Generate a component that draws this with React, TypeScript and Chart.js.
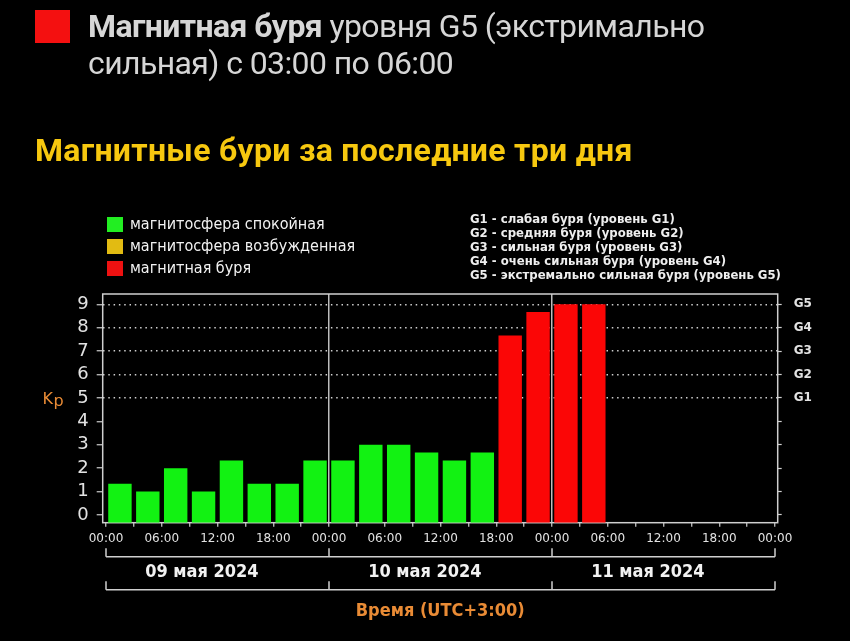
import React, { useEffect, useRef } from "react";
import { Chart, registerables } from "chart.js";

Chart.register(...registerables);

// ---- data ----
const slotHours = 3;
const slotStartHours = [0, 3, 6, 9, 12, 15, 18, 21, 24, 27, 30, 33, 36, 39, 42, 45, 48, 51];
const kpValues = [1.33, 1, 2, 1, 2.33, 1.33, 1.33, 2.33, 2.33, 3, 3, 2.67, 2.33, 2.67, 7.67, 8.67, 9, 9];
const timeTickHours = [0, 3, 6, 9, 12, 15, 18, 21, 24, 27, 30, 33, 36, 39, 42, 45, 48, 51, 54, 57, 60, 63, 66, 69, 72];
const timeTickLabels = [
  "00:00", "", "06:00", "", "12:00", "", "18:00", "",
  "00:00", "", "06:00", "", "12:00", "", "18:00", "",
  "00:00", "", "06:00", "", "12:00", "", "18:00", "",
  "00:00",
];
const kpTicks = [0, 1, 2, 3, 4, 5, 6, 7, 8, 9];
const stormLevelKp = [5, 6, 7, 8, 9];
const stormLevelLabels = ["G1", "G2", "G3", "G4", "G5"];
const dayBoundaryHours = [0, 24, 48, 72];
const dayLabels = ["09 мая 2024", "10 мая 2024", "11 мая 2024"];
const stateLabels = ["магнитосфера спокойная", "магнитосфера возбужденная", "магнитная буря"];
const stateColors = ["#22ee22", "#e2bb12", "#ee1111"];
const stormDescriptions = [
  "G1 - слабая буря (уровень G1)",
  "G2 - средняя буря (уровень G2)",
  "G3 - сильная буря (уровень G3)",
  "G4 - очень сильная буря (уровень G4)",
  "G5 - экстремально сильная буря (уровень G5)",
];

// ---- styles ----
const BAR_GREEN = "#12f212";
const BAR_YELLOW = "#e2bb12";
const BAR_RED = "#fb0606";
const FRAME = "#cfcfcf";
const TEXT = "#e2e2e2";
const ORANGE = "#e98b35";
const Y_MIN = -0.33;
const Y_MAX = 9.44;
const X_MIN = -0.355;
const X_MAX = 72.29;

const barColor = (kp: number) => (kp >= 5 ? BAR_RED : kp >= 4 ? BAR_YELLOW : BAR_GREEN);

const decorPlugin = {
  id: "decor",
  beforeDatasetsDraw(chart: any) {
    const { ctx, chartArea: a } = chart;
    ctx.save();
    ctx.strokeStyle = FRAME;
    ctx.lineWidth = 1.5;
    ctx.strokeRect(a.left, a.top, a.right - a.left, a.bottom - a.top);
    ctx.restore();
  },
  afterDraw(chart: any) {
    const { ctx } = chart;
    const xs = chart.scales.x;
    const ys = chart.scales.y;
    const px = dayBoundaryHours.map((h) => xs.getPixelForValue(h));
    const base = xs.top;
    ctx.save();
    ctx.strokeStyle = FRAME;
    ctx.lineWidth = 1.5;
    const bracket = (lineY: number, tickTop: number) => {
      ctx.beginPath();
      ctx.moveTo(px[0], lineY);
      ctx.lineTo(px[px.length - 1], lineY);
      px.forEach((p) => {
        ctx.moveTo(p, tickTop);
        ctx.lineTo(p, lineY);
      });
      ctx.stroke();
    };
    bracket(base + 34, base + 25.5);
    bracket(base + 67, base + 58.5);

    ctx.fillStyle = "#f2f2f2";
    ctx.font = 'bold 18px "DejaVu Sans Condensed"';
    ctx.textAlign = "center";
    ctx.textBaseline = "middle";
    dayLabels.forEach((lab, i) => {
      const cx = px[i] + 0.43 * (px[i + 1] - px[i]);
      ctx.fillText(lab, cx, base + 49.5);
    });

    // Kp label
    const y5 = ys.getPixelForValue(5);
    ctx.fillStyle = ORANGE;
    ctx.textAlign = "left";
    ctx.textBaseline = "alphabetic";
    ctx.font = '16px "DejaVu Sans"';
    ctx.fillText("K", 42.5, y5 + 5.6);
    ctx.fillText("p", 53.5, y5 + 8);
    ctx.restore();
  },
};

export default function App() {
  const canvasRef = useRef<HTMLCanvasElement | null>(null);

  useEffect(() => {
    document.body.style.margin = "0";
    document.body.style.background = "#000";
    document.documentElement.style.background = "#000";
    const canvas = canvasRef.current;
    if (!canvas) return;
    const chart = new Chart(canvas, {
      type: "bar",
      data: {
        datasets: [
          {
            label: "Kp",
            data: slotStartHours.map((h, i) => ({ x: h + slotHours / 2, y: kpValues[i] })),
            backgroundColor: kpValues.map(barColor),
            borderWidth: 0,
            base: Y_MIN,
            barPercentage: 0.84,
            categoryPercentage: 1,
          } as any,
        ],
      },
      options: {
        responsive: false,
        animation: false,
        events: [],
        layout: { padding: { top: 294, left: 0, right: 0, bottom: 0 } },
        plugins: {
          legend: { display: false },
          title: { display: false },
          tooltip: { enabled: false },
        },
        scales: {
          x: {
            type: "linear",
            position: "bottom",
            min: X_MIN,
            max: X_MAX,
            offset: false,
            afterBuildTicks: (axis: any) => {
              axis.ticks = timeTickHours.map((v) => ({ value: v }));
            },
            afterFit: (axis: any) => {
              axis.height = 641 - 522.7;
            },
            ticks: {
              autoSkip: false,
              maxRotation: 0,
              minRotation: 0,
              padding: 5,
              color: TEXT,
              font: { family: "DejaVu Sans", size: 12 },
              callback: (_v: any, i: number) => timeTickLabels[i],
            },
            grid: {
              offset: false,
              drawOnChartArea: true,
              tickLength: 4,
              lineWidth: 1.5,
              tickWidth: 1.2,
              tickColor: FRAME,
              color: (c: any) =>
                c.tick && (c.tick.value === 24 || c.tick.value === 48) ? "#bdbdbd" : "transparent",
            },
            border: { display: false },
            title: {
              display: true,
              text: "Время (UTC+3:00)",
              color: ORANGE,
              font: { family: "DejaVu Sans Condensed", size: 18, weight: "bold" },
              padding: { top: 0, bottom: 19 },
            },
          },
          y: {
            type: "linear",
            position: "left",
            min: Y_MIN,
            max: Y_MAX,
            afterBuildTicks: (axis: any) => {
              axis.ticks = kpTicks.map((v) => ({ value: v }));
            },
            afterFit: (axis: any) => {
              axis.width = 102.7;
            },
            ticks: {
              padding: 8,
              color: TEXT,
              font: { family: "DejaVu Sans", size: 18 },
            },
            grid: {
              tickLength: 6,
              lineWidth: 1.5,
              tickWidth: 1.2,
              tickColor: FRAME,
              color: (c: any) => (c.tick && c.tick.value >= 5 ? "#cfcfcf" : "transparent"),
            },
            border: { display: false, dash: [1.5, 3.8] },
          },
          y2: {
            type: "linear",
            position: "right",
            min: Y_MIN,
            max: Y_MAX,
            afterBuildTicks: (axis: any) => {
              axis.ticks = kpTicks.map((v) => ({ value: v }));
            },
            afterFit: (axis: any) => {
              axis.width = 850 - 777.7;
            },
            ticks: {
              padding: 12,
              color: TEXT,
              font: { family: "DejaVu Sans", size: 12, weight: "bold" },
              callback: (v: any) => {
                const idx = stormLevelKp.indexOf(Number(v));
                return idx >= 0 ? stormLevelLabels[idx] : "";
              },
            },
            grid: {
              drawOnChartArea: false,
              tickLength: 4,
              tickWidth: 1.2,
              tickColor: FRAME,
              color: FRAME,
            },
            border: { display: false },
          },
        },
      } as any,
      plugins: [decorPlugin],
    });
    return () => chart.destroy();
  }, []);

  return (
    <div style={{ position: "relative", width: 850, height: 641, background: "#000", overflow: "hidden" }}>
      <canvas ref={canvasRef} width={850} height={641} style={{ position: "absolute", left: 0, top: 0 }} />
      <div style={{ position: "absolute", left: 35, top: 10, width: 35, height: 33, background: "#f41010" }} />
      <div
        style={{
          position: "absolute",
          left: 88,
          top: 7.6,
          fontFamily: "Roboto",
          fontSize: 32,
          lineHeight: "37px",
          letterSpacing: "-0.6px",
          color: "#d6d6d6",
          whiteSpace: "nowrap",
        }}
      >
        <div>
          <span style={{ fontWeight: 700 }}>Магнитная буря</span> уровня G5 (экстримально
        </div>
        <div>сильная) с 03:00 по 06:00</div>
      </div>
      <div
        style={{
          position: "absolute",
          left: 35,
          top: 131.6,
          fontFamily: "Roboto",
          fontSize: 32,
          fontWeight: 700,
          lineHeight: "37px",
          letterSpacing: "0.3px",
          color: "#f7c80f",
          whiteSpace: "nowrap",
        }}
      >
        Магнитные бури за последние три дня
      </div>
      {stateLabels.map((lab, i) => (
        <div key={lab} style={{ position: "absolute", left: 107, top: 216 + i * 22, height: 16, display: "flex", alignItems: "center" }}>
          <div style={{ width: 16, height: 15, background: stateColors[i] }} />
          <div
            style={{
              marginLeft: 7,
              fontFamily: "DejaVu Sans Condensed",
              fontSize: 16,
              lineHeight: "16px",
              color: "#f2f2f2",
              whiteSpace: "nowrap",
            }}
          >
            {lab}
          </div>
        </div>
      ))}
      <div
        style={{
          position: "absolute",
          left: 470,
          top: 212,
          fontFamily: "DejaVu Sans Condensed",
          fontWeight: 700,
          fontSize: 13,
          lineHeight: "14px",
          color: "#eeeeee",
          whiteSpace: "nowrap",
        }}
      >
        {stormDescriptions.map((d) => (
          <div key={d}>{d}</div>
        ))}
      </div>
    </div>
  );
}
